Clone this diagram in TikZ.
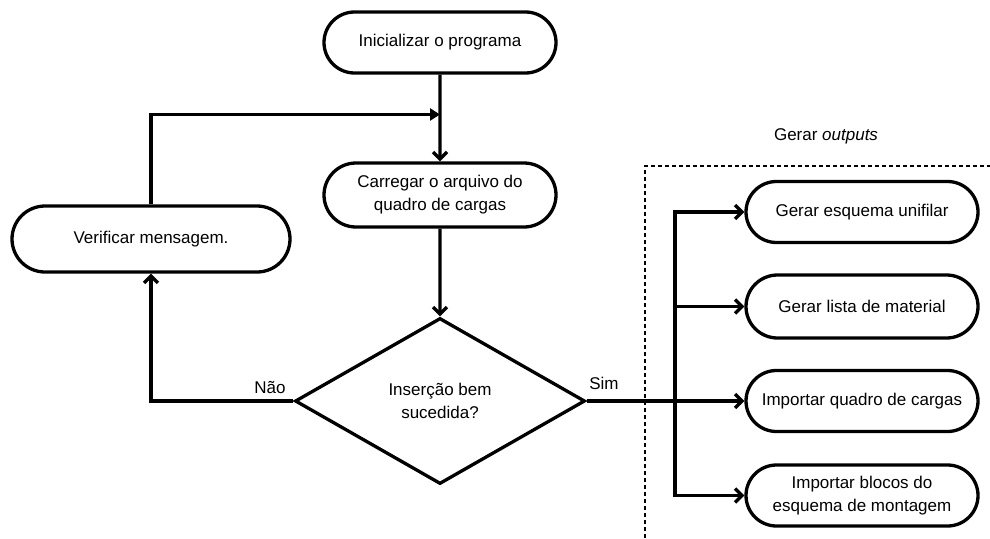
\documentclass[tikz,border=0pt]{standalone}
\usepackage{fontspec}
\setmainfont{Liberation Sans}
\usetikzlibrary{shapes.misc,shapes.geometric,arrows.meta}
\begin{document}
\begin{tikzpicture}[x=1pt,y=-1pt,
  line width=3.3pt,
  >={Straight Barb[length=7pt,width=14pt]},
  every node/.style={font=\fontsize{17}{23}\selectfont},
  term/.style={draw, rounded rectangle, minimum width=232pt, minimum height=61pt, inner sep=0pt, align=center},
  decision/.style={draw, diamond, minimum width=290pt, minimum height=166pt, inner sep=0pt, align=center},
  lbl/.style={inner sep=0pt}
]
\useasboundingbox (0,0) rectangle (990,538);

\node[term] (init) at (440,42.5) {Inicializar o programa};
\node[term, minimum height=64pt] (carr) at (440,195) {Carregar o arquivo do\\quadro de cargas};
\node[term, minimum width=278pt, minimum height=66pt] (verif) at (151,239) {Verificar mensagem.};
\node[decision] (dec) at (440,401) {Inserção bem\\sucedida?};

\node[term] (o1) at (862,212) {Gerar esquema unifilar};
\node[term, minimum height=63pt] (o2) at (862,306.5) {Gerar lista de material};
\node[term] (o3) at (862,401) {Importar quadro de cargas};
\node[term] (o4) at (862,495.5) {Importar blocos do\\esquema de montagem};

\coordinate (j) at (440,114.5);
\coordinate (busx) at (675,0);
\coordinate (fb) at (645,538);
\coordinate (fr) at (990,166);

\draw[->] (init) -- (carr);
\draw[-{Triangle[length=10pt,width=12pt]}] (verif.north) |- (j);
\draw[->] (carr) -- (dec);
\draw[->] (dec.west) -| (verif.south);
\draw[->] (dec.east) -- (o3.west);

\draw[line cap=rect] (busx |- o1.west) -- (busx |- o4.west);
\draw[->] (busx |- o1.west) -- (o1.west);
\draw[->] (busx |- o2.west) -- (o2.west);
\draw[->] (busx |- o4.west) -- (o4.west);

\draw[line width=1.5pt, dash pattern=on 4pt off 3pt] (fb) |- (fr);

\node[lbl] (nao) at (270,387) {Não};
\node[lbl] (sim) at (604,383) {Sim};
\node[lbl] (gout) at (826,136) {Gerar \textit{outputs}};
\end{tikzpicture}
\end{document}
